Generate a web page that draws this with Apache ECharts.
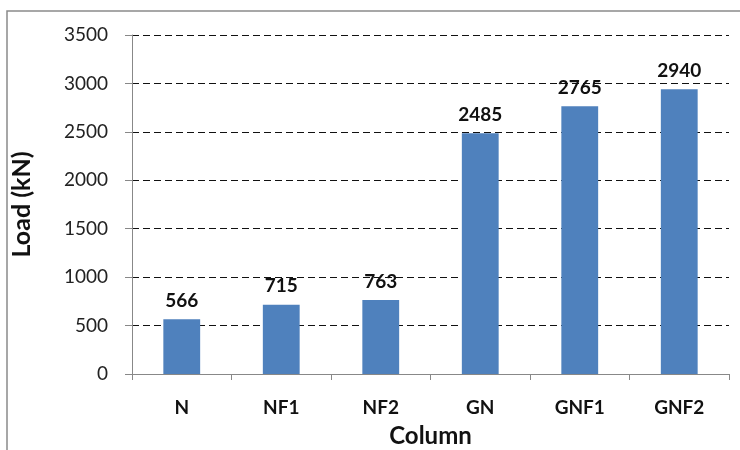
<!DOCTYPE html>
<html>
<head>
<meta charset="utf-8">
<script src="https://cdn.jsdelivr.net/npm/echarts@6/dist/echarts.min.js"></script>
<style>
  html, body { margin: 0; padding: 0; background: #fff; }
  #chart { width: 740px; height: 450px; }
</style>
</head>
<body>
<div id="chart"></div>
<script>
const columns = ["N", "NF1", "NF2", "GN", "GNF1", "GNF2"];
const loads = [566, 715, 763, 2485, 2765, 2940];
const yTicks = { min: 0, max: 3500, step: 500 };

const chart = echarts.init(document.getElementById("chart"));
const fontFamily = "Lato, 'Open Sans', sans-serif";

const option = {
  animation: false,
  textStyle: { fontFamily },
  graphic: [
    {
      type: "rect",
      shape: { x: 7, y: 11, width: 760, height: 460 },
      style: { fill: "none", stroke: "#8a8a8a", lineWidth: 1.5 },
      silent: true,
    },
  ],
  grid: {
    left: 132,
    right: 11,
    top: 35,
    bottom: 76,
    outerBoundsMode: "none",
  },
  xAxis: {
    type: "category",
    data: columns,
    name: "Column",
    nameLocation: "middle",
    nameGap: 50,
    nameTextStyle: {
      fontFamily,
      fontWeight: "bold",
      fontSize: 24,
      color: "#111",
    },
    axisLine: { lineStyle: { color: "#888", width: 1 } },
    axisTick: { show: true, length: 6, lineStyle: { color: "#888" } },
    axisLabel: {
      fontFamily,
      fontWeight: "bold",
      fontSize: 19,
      color: "#111",
      margin: 24,
    },
  },
  yAxis: {
    type: "value",
    min: yTicks.min,
    max: yTicks.max,
    interval: yTicks.step,
    name: "Load (kN)",
    nameLocation: "middle",
    nameGap: 98,
    nameTextStyle: {
      fontFamily,
      fontWeight: "bold",
      fontSize: 25,
      color: "#111",
    },
    axisLine: { show: true, lineStyle: { color: "#888", width: 1 } },
    axisTick: { show: true, length: 7, lineStyle: { color: "#888" } },
    axisLabel: {
      fontFamily,
      fontSize: 19,
      color: "#222",
      margin: 24,
      formatter: (v) => String(v),
    },
    splitLine: {
      show: true,
      lineStyle: { color: "#111", type: [7, 4], width: 1 },
    },
  },
  series: [
    {
      type: "bar",
      data: loads,
      barWidth: "37%",
      itemStyle: { color: "#4f81bd" },
      label: {
        show: true,
        position: "top",
        distance: 9,
        fontFamily,
        fontWeight: "bold",
        fontSize: 19,
        color: "#111",
      },
    },
  ],
};

chart.setOption(option);
</script>
</body>
</html>
